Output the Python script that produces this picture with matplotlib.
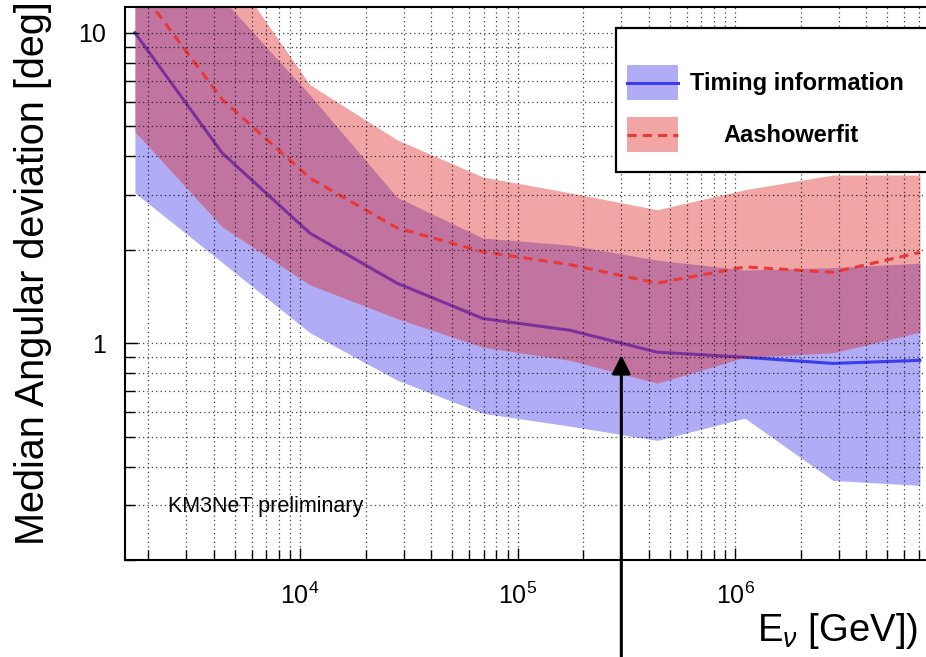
import matplotlib
matplotlib.use('Agg')
import matplotlib.pyplot as plt
from matplotlib.patches import Rectangle
from matplotlib.lines import Line2D
from matplotlib.ticker import NullFormatter
from matplotlib.transforms import blended_transform_factory

plt.rcParams['font.family'] = ['Liberation Sans', 'DejaVu Sans']
plt.rcParams['mathtext.fontset'] = 'custom'
plt.rcParams['mathtext.rm'] = 'Liberation Sans'
plt.rcParams['mathtext.it'] = 'Liberation Sans:italic'

# neutrino energy [GeV]
energy = [1.74e3, 4.38e3, 1.11e4, 2.79e4, 6.93e4, 1.74e5, 4.38e5, 1.11e6, 2.82e6, 7.08e6]

# timing information: median and band
timing_med = [10.0, 4.1, 2.26, 1.56, 1.2, 1.1, 0.935, 0.90, 0.86, 0.88]
timing_lo = [3.05, 1.82, 1.08, 0.76, 0.594, 0.54, 0.486, 0.573, 0.361, 0.348]
timing_hi = [26.0, 12.9, 6.3, 2.95, 2.18, 2.07, 1.85, 1.72, 1.75, 1.81]

# Aashowerfit: median and band
shower_med = [14.5, 6.1, 3.4, 2.35, 1.97, 1.79, 1.56, 1.76, 1.69, 1.96]
shower_lo = [4.8, 2.37, 1.54, 1.2, 0.97, 0.88, 0.743, 0.90, 0.93, 1.085]
shower_hi = [40.0, 17.3, 6.8, 4.52, 3.43, 3.05, 2.69, 3.12, 3.48, 3.48]

arrow_energy = 3.0e5
arrow_value = 0.915

blue_fill = '#b0acf5'
blue_line = '#3a3cf0'
red_fill = '#dd2020'
red_line = '#e83838'

fig = plt.figure(figsize=(9.26, 6.57), dpi=100)
ax = fig.add_axes([0.135, 0.1476, 0.865, 0.8417])

ax.fill_between(energy, timing_lo, timing_hi, color=blue_fill, lw=0, zorder=1)
ax.plot(energy, timing_med, color=blue_line, lw=2.2, zorder=1.1)
ax.fill_between(energy, shower_lo, shower_hi, color=red_fill, alpha=0.4, lw=0, zorder=1.2)
ax.plot(energy, shower_med, color=red_line, lw=2.2, ls=(0, (3, 2)), zorder=1.3)

ax.set_xscale('log')
ax.set_yscale('log')
ax.set_xlim(1567, 7.55e6)
ax.set_ylim(0.2, 12.1)

ax.set_xticks([1e4, 1e5, 1e6], labels=[r'$10^{4}$', r'$10^{5}$', r'$10^{6}$'])
ax.set_yticks([1, 10], labels=['1', '10'])
ax.xaxis.set_minor_formatter(NullFormatter())
ax.yaxis.set_minor_formatter(NullFormatter())

ax.set_axisbelow(False)
ax.grid(True, which='both', ls=(0, (1, 2.5)), color='black', lw=0.9, alpha=0.75)

ax.tick_params(which='both', direction='in', top=False, right=False, width=1, color='black')
ax.tick_params(which='major', length=9)
ax.tick_params(which='minor', length=7)
ax.tick_params(axis='y', labelsize=18, pad=14)
ax.tick_params(axis='x', labelsize=18, pad=16)

for side in ['left', 'bottom', 'top']:
    ax.spines[side].set_linewidth(1.5)
ax.spines['right'].set_visible(False)

ax.text(0.054, 0.096, 'KM3NeT preliminary', transform=ax.transAxes,
        fontsize=15.5, va='center', ha='left')

# legend box
ax.add_patch(Rectangle((0.613, 0.7016), 0.40, 0.2604, transform=ax.transAxes,
                       facecolor='white', edgecolor='black', lw=1.6, zorder=5, clip_on=False))
ax.add_patch(Rectangle((0.6267, 0.8318), 0.0637, 0.0633, transform=ax.transAxes,
                       facecolor=blue_fill, lw=0, zorder=6))
ax.add_line(Line2D([0.6267, 0.6904], [0.8626, 0.8626], transform=ax.transAxes,
                   color=blue_line, lw=2.2, zorder=7))
ax.add_patch(Rectangle((0.6267, 0.7378), 0.0637, 0.0633, transform=ax.transAxes,
                       facecolor=red_fill, alpha=0.4, lw=0, zorder=6))
ax.add_line(Line2D([0.6267, 0.6904], [0.7685, 0.7685], transform=ax.transAxes,
                   color=red_line, lw=2.2, ls=(0, (3, 2)), zorder=7))
ax.text(0.7054, 0.8626, 'Timing information', transform=ax.transAxes, fontsize=17,
        fontweight='bold', va='center', ha='left', zorder=8)
ax.text(0.8315, 0.7685, 'Aashowerfit', transform=ax.transAxes, fontsize=17,
        fontweight='bold', va='center', ha='center', zorder=8)

# arrow from below the figure
trans = blended_transform_factory(ax.transData, fig.transFigure)
ax.annotate('', xy=(arrow_energy, arrow_value), xycoords='data',
            xytext=(arrow_energy, -0.02), textcoords=trans,
            arrowprops=dict(arrowstyle='-|>,head_length=0.4,head_width=0.2',
                            color='black', lw=2.2, mutation_scale=28,
                            shrinkA=0, shrinkB=0),
            annotation_clip=False, zorder=9)

fig.text(0.036, 0.5845, 'Median Angular deviation [deg]', rotation=90,
         ha='center', va='center', fontsize=28.5)
fig.text(0.9914, 0.0244, r'E$_{\nu}$ [GeV])', ha='right', va='baseline', fontsize=27.5)

fig.savefig('out.png', dpi=100)
